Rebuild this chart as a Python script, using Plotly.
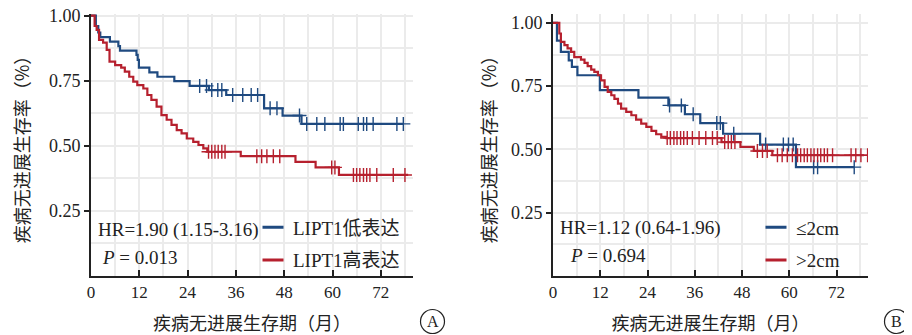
import numpy as np
import plotly.graph_objects as go

# ---------------- data ----------------
# Panel A: LIPT1 expression
a_low_t = [0, 1.2, 1.8, 2.3, 4.7, 6.8, 7.2, 11.3, 11.6, 11.9, 14.5, 16.5, 20.7, 24.5, 29.3, 33.6, 43.0, 47.6, 52.3]
a_low_s = [1.0, 0.96, 0.935, 0.917, 0.90, 0.883, 0.865, 0.849, 0.83, 0.80, 0.782, 0.765, 0.748, 0.73, 0.714, 0.695, 0.644, 0.616, 0.584]
a_low_end = 77.6
a_low_cens = [27.0, 28.7, 30.0, 31.5, 32.5, 35.2, 37.7, 39.8, 41.4, 44.5, 46.2, 51.8, 53.6, 56.1, 58.1,
              61.9, 62.7, 66.4, 67.7, 68.5, 70.1, 76.0, 77.6]

a_high_t = [0, 0.9, 1.4, 2.0, 3.0, 3.9, 4.6, 6.0, 7.5, 8.4, 9.5, 10.5, 11.5, 13.0, 14.0, 15.0, 16.3, 17.5,
            18.8, 20.0, 21.3, 22.5, 23.8, 25.4, 26.7, 27.9, 28.9, 37.2, 50.8, 55.8, 61.6]
a_high_s = [1.0, 0.96, 0.945, 0.907, 0.896, 0.868, 0.823, 0.81, 0.80, 0.785, 0.765, 0.746, 0.733, 0.72, 0.695,
            0.676, 0.65, 0.618, 0.60, 0.58, 0.56, 0.548, 0.528, 0.515, 0.503, 0.49, 0.477, 0.46, 0.438, 0.417, 0.388]
a_high_end = 78.8
a_high_cens = [29.2, 30.0, 30.8, 31.6, 32.5, 33.3, 41.2, 42.4, 43.7, 45.3, 46.9, 59.8, 60.6, 65.2, 66.0,
               66.8, 67.7, 68.5, 69.3, 71.0, 75.1, 78.0]

# Panel B: tumour size
b_small_t = [0, 1.0, 2.0, 4.0, 4.8, 6.2, 11.9, 21.7, 29.3, 33.5, 37.4, 43.2, 52.6, 61.7]
b_small_s = [1.0, 0.93, 0.885, 0.852, 0.826, 0.793, 0.734, 0.705, 0.674, 0.639, 0.604, 0.562, 0.519, 0.43]
b_small_end = 76.5
b_small_cens = [29.6, 32.6, 35.6, 41.6, 42.5, 45.9, 54.0, 58.5, 59.8, 61.0, 66.2, 67.2, 76.5]

b_large_t = [0, 1.6, 2.0, 2.9, 3.7, 4.6, 5.4, 7.1, 8.0, 8.8, 9.7, 10.5, 11.4, 12.2, 13.1, 13.9, 14.8, 15.6,
             16.5, 17.3, 18.6, 19.9, 21.1, 22.4, 23.7, 25.0, 26.2, 27.5, 28.8, 42.8, 47.6, 51.0, 55.7]
b_large_s = [1.0, 0.958, 0.925, 0.912, 0.899, 0.885, 0.865, 0.855, 0.842, 0.829, 0.815, 0.806, 0.793, 0.773,
             0.747, 0.727, 0.714, 0.70, 0.681, 0.661, 0.648, 0.635, 0.618, 0.602, 0.589, 0.573, 0.56, 0.55,
             0.545, 0.529, 0.51, 0.494, 0.477]
b_large_end = 79.0
b_large_cens = [29.0, 29.8, 30.7, 31.5, 32.4, 33.2, 34.1, 35.4, 37.1, 38.8, 40.5, 41.7, 43.6, 44.5, 45.3,
                46.2, 51.9, 53.2, 54.4, 57.0, 58.2, 59.5, 60.8, 62.1, 62.9, 63.8, 64.6, 65.5, 66.3, 67.2,
                68.0, 68.9, 69.7, 71.0, 75.7, 76.9, 78.2, 79.9]

x_tick_vals = [0, 12, 24, 36, 48, 60, 72]
x_tick_text = ["0", "12", "24", "36", "48", "60", "72"]
y_tick_vals = [0.25, 0.50, 0.75, 1.00]
y_tick_text = ["0.25", "0.50", "0.75", "1.00"]

names_a = ["LIPT1低表达", "LIPT1高表达"]
names_b = ["≤2cm", ">2cm"]
stats_a = ["HR=1.90 (1.15-3.16)", "<i>P</i> = 0.013"]
stats_b = ["HR=1.12 (0.64-1.96)", "<i>P</i> = 0.694"]
x_title = "疾病无进展生存期（月）"
y_title = "疾病无进展生存率（%）"
panel_letters = ["A", "B"]

BLUE = "#1f4a80"
RED = "#b6202e"
INK = "#222222"
GRID = "#ebebeb"
SERIF = "Liberation Serif, Noto Sans CJK SC, serif"
CJK = "Noto Sans CJK SC, sans-serif"

# page body has an 8px margin, so the figure is drawn 8px in from the window corner
OFF = 8
W, H = 912 - OFF, 335 - OFF
PLOT_TOP, PLOT_BOTTOM = 14 - OFF, 276 - OFF
PH = PLOT_BOTTOM - PLOT_TOP


def px_x(p):  # window pixel -> paper x
    return (p - OFF) / W


def px_y(p):  # window pixel -> paper y
    return (PLOT_BOTTOM - (p - OFF)) / PH


def step_value(times, surv, t):
    idx = np.searchsorted(np.array(times), t, side="right") - 1
    return float(np.array(surv)[idx])


fig = go.Figure()


def add_curve(times, surv, end, cens, color, name, xa, ya, legend):
    fig.add_trace(go.Scatter(
        x=list(times) + [end], y=list(surv) + [surv[-1]], mode="lines",
        line=dict(color=color, width=2.2, shape="hv"), xaxis=xa, yaxis=ya,
        showlegend=False, hoverinfo="skip"))
    cy = [step_value(times, surv, t) for t in cens]
    fig.add_trace(go.Scatter(
        x=cens, y=cy, mode="markers",
        marker=dict(symbol="cross-thin", size=10, line=dict(color=color, width=1.4)),
        xaxis=xa, yaxis=ya, showlegend=False, hoverinfo="skip"))
    # legend key
    fig.add_trace(go.Scatter(
        x=[None], y=[None], mode="markers", name=name, legendgroup=name,
        marker=dict(symbol="line-ew", size=15, line=dict(color=color, width=3)),
        xaxis=xa, yaxis=ya, legend=legend, showlegend=True))


add_curve(a_low_t, a_low_s, a_low_end, a_low_cens, BLUE, names_a[0], "x", "y", "legend")
add_curve(a_high_t, a_high_s, a_high_end, a_high_cens, RED, names_a[1], "x", "y", "legend")
add_curve(b_small_t, b_small_s, b_small_end, b_small_cens, BLUE, names_b[0], "x2", "y2", "legend2")
add_curve(b_large_t, b_large_s, b_large_end, b_large_cens, RED, names_b[1], "x2", "y2", "legend2")

xcommon = dict(
    range=[0, 80], tickmode="array", tickvals=x_tick_vals, ticktext=x_tick_text,
    ticks="inside", ticklen=6, tickwidth=2, tickcolor=INK,
    showline=True, linecolor=INK, linewidth=2,
    showgrid=True, gridcolor=GRID, gridwidth=1.5, zeroline=False,
    minor=dict(dtick=6, tick0=0, showgrid=True, gridcolor=GRID, gridwidth=1.5),
    tickfont=dict(family=SERIF, size=17, color=INK),
    title=dict(text=x_title, font=dict(family=CJK, size=18, color=INK), standoff=16),
    fixedrange=True, automargin=False,
)
ycommon = dict(
    tickmode="array", tickvals=y_tick_vals, ticktext=y_tick_text,
    ticks="outside", ticklen=5, tickwidth=2, tickcolor=INK,
    showline=True, linecolor=INK, linewidth=2,
    showgrid=True, gridcolor=GRID, gridwidth=1.5, zeroline=False,
    minor=dict(dtick=0.125, tick0=0, showgrid=True, gridcolor=GRID, gridwidth=1.5),
    tickfont=dict(family=SERIF, size=18, color=INK), ticklabeloverflow="allow",
    fixedrange=True, automargin=False,
)

legend_common = dict(yanchor="middle", xanchor="left", bgcolor="rgba(0,0,0,0)",
                     font=dict(family=SERIF, size=19, color=INK), tracegroupgap=5,
                     itemclick=False, itemdoubleclick=False, borderwidth=0)

fig.update_layout(
    width=W, height=H,
    margin=dict(l=0, r=0, t=PLOT_TOP, b=H - PLOT_BOTTOM),
    paper_bgcolor="white", plot_bgcolor="white",
    xaxis=dict(xcommon, domain=[px_x(91), px_x(413)], anchor="y"),
    yaxis=dict(ycommon, domain=[0, 1], range=[0, 1.006], anchor="x",
               title=dict(text=y_title, font=dict(family=CJK, size=18, color=INK), standoff=26)),
    xaxis2=dict(xcommon, domain=[px_x(553), px_x(868)], anchor="y2"),
    yaxis2=dict(ycommon, domain=[0, 1], range=[0, 1.035], anchor="x2",
                title=dict(text=y_title, font=dict(family=CJK, size=18, color=INK), standoff=10)),
    legend=dict(legend_common, x=px_x(253), y=px_y(244)),
    legend2=dict(legend_common, x=px_x(756), y=px_y(244)),
    showlegend=True,
)

# HR / P annotations
for (txt, xa, ya, xv, yv) in [
    (stats_a[0], "x", "y", 1.3, 0.175), (stats_a[1], "x", "y", 2.2, 0.07),
    (stats_b[0], "x2", "y2", 1.3, 0.19), (stats_b[1], "x2", "y2", 3.8, 0.08),
]:
    fig.add_annotation(text=txt, x=xv, y=yv, xref=xa, yref=ya, xanchor="left", yanchor="middle",
                       showarrow=False, font=dict(family=SERIF, size=19, color=INK))

# circled panel letters
for letter, cx in zip(panel_letters, [432.5, 896.5]):
    cy = 321.5
    fig.add_shape(type="circle", xref="paper", yref="paper",
                  x0=px_x(cx - 12), x1=px_x(cx + 12),
                  y0=px_y(cy + 12), y1=px_y(cy - 12),
                  line=dict(color=INK, width=1.2))
    fig.add_annotation(text=letter, x=px_x(cx), y=px_y(cy), xref="paper", yref="paper",
                       showarrow=False, font=dict(family=SERIF, size=16, color=INK),
                       xanchor="center", yanchor="middle")

fig.write_html("out.html")
